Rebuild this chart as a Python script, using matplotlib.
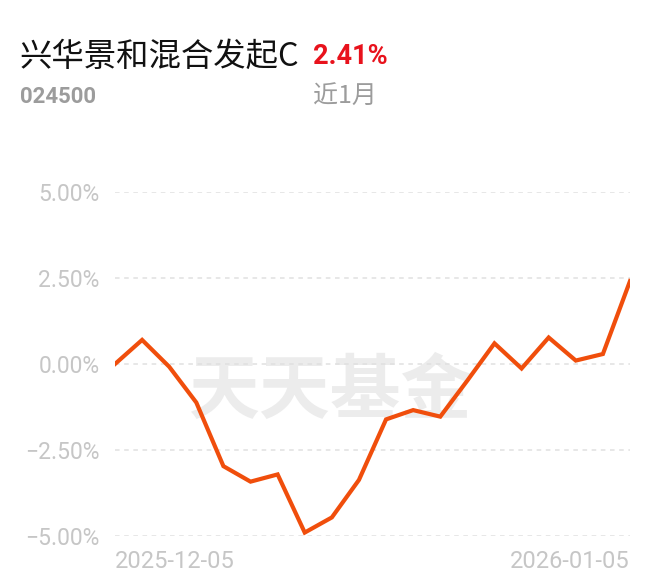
import numpy as np
import matplotlib
matplotlib.use("Agg")
import matplotlib.pyplot as plt
from matplotlib.ticker import FuncFormatter

plt.rcParams['font.family'] = ['Roboto', 'Noto Sans CJK SC', 'DejaVu Sans']

# fund data, daily cumulative return in % over the last month
fund_name = "兴华景和混合发起C"
fund_code = "024500"
period_label = "近1月"
period_return = 2.41
returns = [0.0, 0.70, -0.08, -1.12, -2.97, -3.42, -3.21, -4.90, -4.46, -3.37,
           -1.61, -1.34, -1.53, -0.48, 0.60, -0.13, 0.77, 0.10, 0.29, 2.41]
y_ticks = [5.0, 2.5, 0.0, -2.5, -5.0]
date_start = "2025-12-05"
date_end = "2026-01-05"

line_color = '#f04e0c'
grid_color = '#e0e0e0'
label_color = '#c6c6c6'

fig = plt.figure(figsize=(6.6, 5.85), dpi=100)
ax = fig.add_axes([115 / 660, 1 - 536 / 585, 515 / 660, 344 / 585])

x = np.arange(len(returns))

# watermark behind everything
ax.text(7.95, -0.8, "天天基金", fontsize=51, fontweight='bold',
        color='#ececec', ha='center', va='center', zorder=0,
        family=['Noto Sans CJK SC'])

for t in y_ticks:
    ax.axhline(t, color=grid_color, lw=1.1, ls=(0, (3, 3)), zorder=1)

ax.plot(x, returns, color=line_color, lw=3, solid_joinstyle='miter', zorder=3)

ax.set_xlim(0, len(returns) - 1)
ax.set_ylim(-5, 5)
ax.set_yticks(y_ticks)
ax.yaxis.set_major_formatter(FuncFormatter(lambda v, p: f"{v:.2f}%".replace('-', '\u2212')))
ax.tick_params(axis='y', length=0, pad=11, labelsize=16.5, labelcolor=label_color)
ax.set_xticks([])
for s in ax.spines.values():
    s.set_visible(False)

# date labels at the ends of the x axis
ax.text(0, -5.75, date_start, ha='left', va='center', fontsize=17, color=label_color)
ax.text(len(returns) - 1, -5.75, date_end, ha='right', va='center', fontsize=17, color=label_color)

# header
fig.text(20 / 660, 1 - 57 / 585, fund_name, fontsize=23.3, color='#111111', va='center',
         family=['Noto Sans CJK SC'])
fig.text(313 / 660, 1 - 57 / 585, f"{period_return:.2f}%", fontsize=19.5, fontweight='bold',
         color='#e8121c', va='center')
fig.text(20 / 660, 1 - 97 / 585, fund_code, fontsize=16, fontweight='bold', color='#9c9c9c', va='center')
fig.text(313 / 660, 1 - 97 / 585, period_label, fontsize=18, color='#9c9c9c', va='center',
         family=['Noto Sans CJK SC'])

fig.savefig("out.png", dpi=100)
